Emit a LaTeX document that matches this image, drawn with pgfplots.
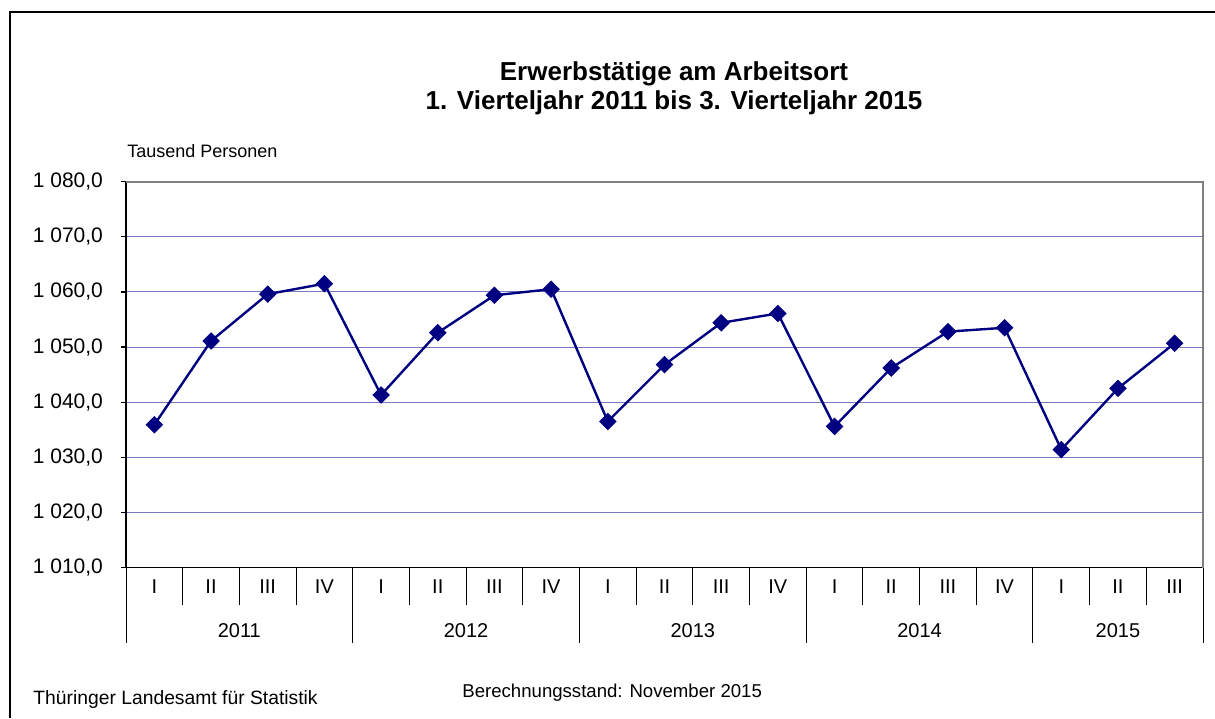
\documentclass[border=0pt]{standalone}
\usepackage{pgfplots}
\pgfplotsset{compat=1.18}
\usepackage{fontspec}
\setmainfont{Liberation Sans}
\definecolor{navyline}{RGB}{0,0,128}
\definecolor{gridblue}{RGB}{120,120,190}
\definecolor{bordergray}{RGB}{128,128,128}
\begin{document}
\begin{tikzpicture}
\begin{scope}[x=0.5pt,y=-0.5pt]
\useasboundingbox (0,0) rectangle (1215,718);
\draw[line width=1pt,black] (10,718) -- (10,12) -- (1215,12);
\node[anchor=base,font=\fontsize{13}{15}\selectfont\bfseries] at (674,80) {Erwerbstätige am Arbeitsort};
\node[anchor=base,font=\fontsize{13}{15}\selectfont\bfseries] at (674,109) {1. Vierteljahr 2011 bis 3. Vierteljahr 2015};
\node[anchor=base west,inner sep=0pt,font=\fontsize{9}{11}\selectfont] at (127,157) {Tausend Personen};
\node[anchor=base west,inner sep=0pt,font=\fontsize{9.65}{12}\selectfont] at (33,704) {Thüringer Landesamt für Statistik};
\node[anchor=base west,inner sep=0pt,font=\fontsize{9.3}{11}\selectfont] at (462,697) {Berechnungsstand: November 2015};
\end{scope}
\begin{axis}[
  at={(63pt,-283.75pt)}, anchor=south west,
  scale only axis, width=538.5pt, height=192.9pt,
  xmin=0.5, xmax=19.5, ymin=1010, ymax=1080,
  clip=false,
  axis x line*=bottom, axis y line*=left,
  axis line style={black, line width=0.9pt},
  xtick={1,...,19},
  xticklabels={I,II,III,IV,I,II,III,IV,I,II,III,IV,I,II,III,IV,I,II,III},
  xtick style={draw=none},
  xticklabel style={font=\fontsize{10}{12}\selectfont, yshift=-2.8pt},
  ytick={1010,1020,...,1080},
  yticklabels={{1 010,0},{1 020,0},{1 030,0},{1 040,0},{1 050,0},{1 060,0},{1 070,0},{1 080,0}},
  ytick align=outside,
  major tick length=2.5pt,
  ytick style={black, line width=0.6pt},
  yticklabel style={font=\fontsize{10.5}{12}\selectfont, xshift=-5.5pt},
  ymajorgrids,
  major grid style={draw=gridblue, line width=0.5pt},
]
\addplot[navyline, line width=1.2pt, mark=square*, mark size=2.5pt,
  mark options={rotate=45, fill=navyline, draw=navyline}] coordinates {
  (1,1035.9) (2,1051.1) (3,1059.6) (4,1061.5)
  (5,1041.3) (6,1052.6) (7,1059.4) (8,1060.5)
  (9,1036.5) (10,1046.8) (11,1054.4) (12,1056.1)
  (13,1035.6) (14,1046.2) (15,1052.8) (16,1053.5)
  (17,1031.4) (18,1042.5) (19,1050.7)
};
\draw[bordergray, line width=1pt] (rel axis cs:0,1) -- (rel axis cs:1,1) -- (rel axis cs:1,0);
\pgfplotsinvokeforeach{0.5,1.5,2.5,3.5,5.5,6.5,7.5,9.5,10.5,11.5,13.5,14.5,15.5,17.5,18.5}{
  \draw[black, line width=0.5pt] (axis cs:#1,1010) -- ([yshift=-18.75pt]axis cs:#1,1010);
}
\pgfplotsinvokeforeach{0.5,4.5,8.5,12.5,16.5,19.5}{
  \draw[black, line width=0.5pt] (axis cs:#1,1010) -- ([yshift=-37.75pt]axis cs:#1,1010);
}
\node[font=\fontsize{10}{12}\selectfont] at (axis cs:2.5,1010) [yshift=-31.75pt] {2011};
\node[font=\fontsize{10}{12}\selectfont] at (axis cs:6.5,1010) [yshift=-31.75pt] {2012};
\node[font=\fontsize{10}{12}\selectfont] at (axis cs:10.5,1010) [yshift=-31.75pt] {2013};
\node[font=\fontsize{10}{12}\selectfont] at (axis cs:14.5,1010) [yshift=-31.75pt] {2014};
\node[font=\fontsize{10}{12}\selectfont] at (axis cs:18,1010) [yshift=-31.75pt] {2015};
\end{axis}
\end{tikzpicture}
\end{document}
